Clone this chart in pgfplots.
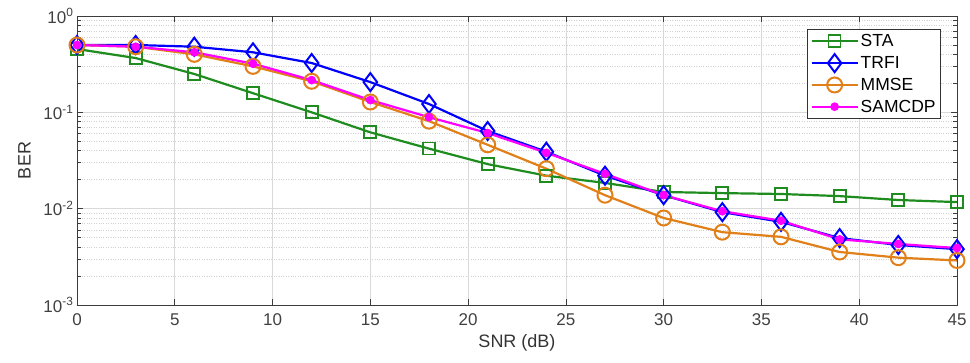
\documentclass[border=0pt]{standalone}
\usepackage{pgfplots}
\pgfplotsset{compat=1.18}
\usepackage{fontspec}
\setmainfont{Liberation Sans}
\definecolor{cSTA}{RGB}{30,140,30}
\definecolor{cTRFI}{RGB}{0,0,255}
\definecolor{cMMSE}{RGB}{225,128,25}
\definecolor{cSAM}{RGB}{255,0,255}
\definecolor{axcol}{RGB}{60,60,60}
\begin{document}
\begin{tikzpicture}
\useasboundingbox (-77pt,-58pt) rectangle (893pt,305pt);
\begin{axis}[
  scale only axis,
  width=880pt, height=289pt,
  xmin=0, xmax=45, ymin=1e-3, ymax=1,
  ymode=log,
  xtick={0,5,...,45},
  ytick={1e-3,1e-2,1e-1,1},
  yticklabels={10\textsuperscript{-3},10\textsuperscript{-2},10\textsuperscript{-1},10\textsuperscript{0}},
  /pgf/number format/assume math mode=true,
  tick label style={font=\fontsize{17}{20}\selectfont, text=black!75},
  xticklabel style={yshift=-5pt},
  label style={font=\fontsize{18}{21}\selectfont, text=black!80},
  xlabel={SNR (dB)}, ylabel={BER},
  xlabel style={yshift=-2pt},
  ylabel style={yshift=6pt},
  tick align=inside,
  major tick length=6pt, minor tick length=4pt,
  axis line style={axcol, line width=0.9pt},
  every tick/.style={axcol, line width=0.7pt},
  grid=both,
  xminorgrids=false,
  major grid style={gray!30, line width=0.6pt},
  minor grid style={gray!35, dotted, line width=0.6pt},
  legend style={at={(rel axis cs:1,1)}, anchor=north east, xshift=-16pt, yshift=-13pt,
    font=\fontsize{17.5}{20}\selectfont, draw=black!80, line width=0.8pt,
    row sep=4pt, inner sep=3pt},
  legend cell align=left,
  legend image code/.code={
    \draw[#1] (0pt,0pt) -- (23pt,0pt);
    \draw[#1,mark repeat=2,mark phase=2] plot coordinates {(0pt,0pt) (23pt,0pt) (46pt,0pt)};
    \draw[#1] (23pt,0pt) -- (46pt,0pt);
  },
]
\addplot[cSTA, line width=2.2pt, mark=square, mark size=6pt, mark options={line width=1.7pt}] coordinates {
(0,0.454) (3,0.366) (6,0.25) (9,0.158) (12,0.1) (15,0.062) (18,0.042) (21,0.029) (24,0.022) (27,0.0185) (30,0.0149) (33,0.0145) (36,0.0142) (39,0.0135) (42,0.0123) (45,0.0117)};
\addlegendentry{STA}
\addplot[cTRFI, line width=2.2pt, mark=diamond, mark size=9pt, mark options={line width=2pt}] coordinates {
(0,0.5) (3,0.5) (6,0.48) (9,0.42) (12,0.325) (15,0.206) (18,0.122) (21,0.064) (24,0.039) (27,0.022) (30,0.0138) (33,0.0092) (36,0.0073) (39,0.00495) (42,0.0042) (45,0.0038)};
\addlegendentry{TRFI}
\addplot[cMMSE, line width=2.2pt, mark=o, mark size=7.5pt, mark options={line width=2pt}] coordinates {
(0,0.5) (3,0.48) (6,0.40) (9,0.30) (12,0.21) (15,0.128) (18,0.081) (21,0.046) (24,0.026) (27,0.0138) (30,0.0080) (33,0.0057) (36,0.0051) (39,0.00355) (42,0.0031) (45,0.0029)};
\addlegendentry{MMSE}
\addplot[cSAM, line width=2.2pt, mark=*, mark size=3.2pt] coordinates {
(0,0.5) (3,0.48) (6,0.42) (9,0.32) (12,0.216) (15,0.134) (18,0.089) (21,0.061) (24,0.038) (27,0.023) (30,0.0138) (33,0.0094) (36,0.0075) (39,0.0048) (42,0.0043) (45,0.0039)};
\addlegendentry{SAMCDP}
\end{axis}
\end{tikzpicture}
\end{document}
